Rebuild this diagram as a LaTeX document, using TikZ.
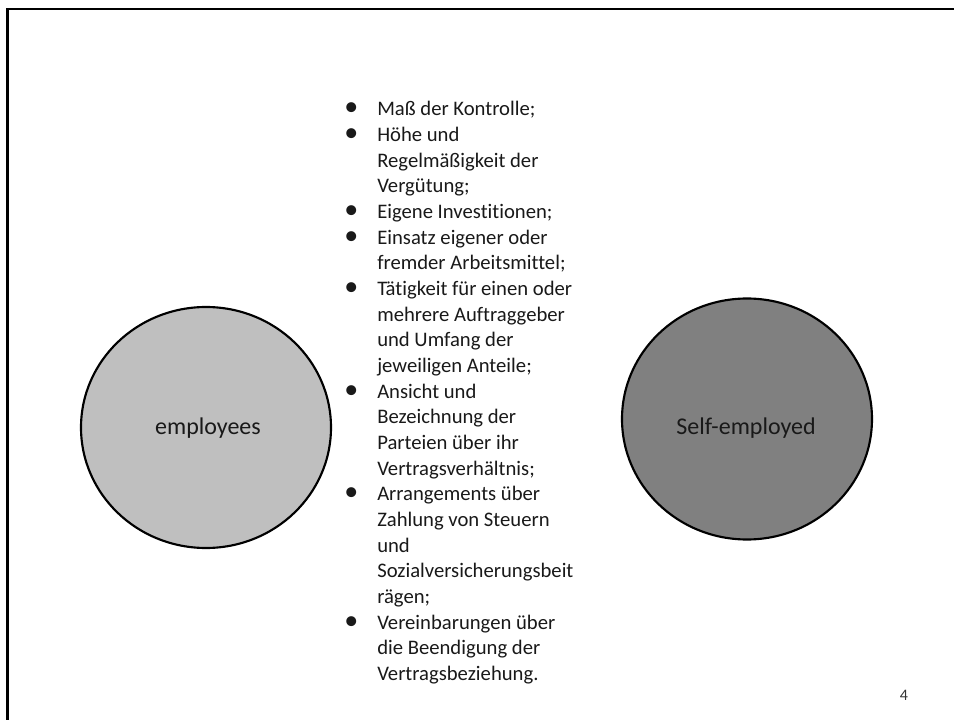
\documentclass[tikz,border=0pt]{standalone}
\usepackage{fontspec}
\setmainfont{Carlito}[Ligatures=NoCommon]
\usepackage{tikz}
\usetikzlibrary{shapes.geometric}

\newcommand{\blt}{{\fontsize{21}{19.24}\selectfont •}}

\tikzset{
  bubble/.style={ellipse, draw=black, line width=1.6pt, minimum width=187.5pt, minimum height=180.75pt, inner sep=0pt},
  bubbletext/.style={font=\fontsize{18}{21.6}\selectfont, text=black!90},
}

\begin{document}
\begin{tikzpicture}[x=0.75pt,y=-0.75pt]

\useasboundingbox (0,0) rectangle (954,720);

\draw[line width=2pt] (954,9) -- (7.5,9) -- (7.5,720);

\node[bubble, fill=black!25] (employees) at (206,427.5) {};

\node[bubble, fill=black!50] (selfemployed) at (747,419) {};

\node[bubbletext] at (208,428) {employees};

\node[bubbletext] at (746,428) {Self-employed};

\node[anchor=base west, inner sep=0pt, text=black!90, font=\fontsize{15.5}{19.24}\selectfont] (criteria) at (338,116) {%
\begin{tabular}[t]{@{}c@{\hspace{9.75pt}}l@{}}
\makebox[19.5pt]{\blt} & Maß der Kontrolle;\\
\blt & Höhe und\\
     & Regelmäßigkeit der\\
     & Vergütung;\\
\blt & Eigene Investitionen;\\
\blt & Einsatz eigener oder\\
     & fremder Arbeitsmittel;\\
\blt & Tätigkeit für einen oder\\
     & mehrere Auftraggeber\\
     & und Umfang der\\
     & jeweiligen Anteile;\\
\blt & Ansicht und\\
     & Bezeichnung der\\
     & Parteien über ihr\\
     & Vertragsverhältnis;\\
\blt & Arrangements über\\
     & Zahlung von Steuern\\
     & und\\
     & Sozialversicherungsbeit\\
     & rägen;\\
\blt & Vereinbarungen über\\
     & die Beendigung der\\
     & Vertragsbeziehung.
\end{tabular}};

\node[font=\fontsize{12}{14}\selectfont, text=black!80] (pagenum) at (904,695) {4};

\end{tikzpicture}
\end{document}
